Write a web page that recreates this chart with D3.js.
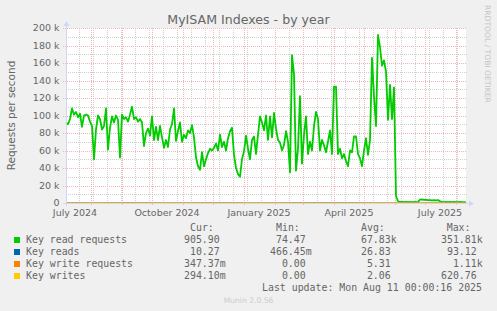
<!DOCTYPE html>
<html>
<head>
<meta charset="utf-8">
<script src="https://cdn.jsdelivr.net/npm/d3@7"></script>
<style>
  body { margin: 0; background: #f0f0f0; }
  svg { display: block; }
</style>
</head>
<body>
<div id="chart"></div>
<script>
// ---- data (values in thousands of requests/s, one sample every 2 days from startDay)
const startDay = new Date(2024, 6, 7);
const stepDays = 2;
const keyReadRequests = [
  92, 90, 96, 108, 101, 104, 98, 102, 87, 100, 101, 100, 93, 88, 50, 84, 100, 96, 84, 88,
  108, 61, 86, 99, 92, 100, 95, 52, 101, 96, 98, 93, 101, 110, 96, 98, 93, 96, 92, 65,
  80, 85, 77, 99, 72, 87, 72, 88, 75, 63, 72, 64, 84, 90, 108, 71, 82, 92, 70, 78,
  74, 83, 80, 89, 75, 52, 42, 38, 58, 42, 50, 57, 62, 60, 63, 68, 60, 78, 64, 70,
  60, 74, 82, 86, 55, 40, 33, 30, 50, 59, 77, 62, 50, 72, 76, 56, 78, 99, 92, 83,
  100, 72, 99, 75, 103, 85, 72, 69, 60, 66, 82, 70, 35, 169, 147, 37, 62, 122, 45, 78,
  99, 56, 70, 60, 88, 104, 96, 60, 72, 66, 58, 70, 83, 56, 133, 133, 56, 62, 51, 56,
  48, 42, 60, 58, 76, 76, 56, 51, 42, 60, 74, 55, 72, 166, 122, 88, 192, 178, 157, 163,
  150, 95, 135, 96, 132, 8, 2, 1.2,
  1.2, 1.0, 1.3, 1.1, 1.2, 1.0, 1.2, 1.1, 1.3,
  3.8, 4.0, 3.5, 3.6, 3.2, 3.4, 3.0, 3.3, 3.1, 3.4, 2.0,
  1.2, 1.1, 1.3, 1.0, 1.2, 1.1, 1.2, 1.0, 1.1, 1.2, 1.0, 1.1, 0.9
];

// the small series, sampled monthly (requests/s)
const smallDates = ["2024-07-07","2024-08-07","2024-09-07","2024-10-07","2024-11-07","2024-12-07",
  "2025-01-07","2025-02-07","2025-03-07","2025-04-07","2025-05-07","2025-06-07","2025-07-07","2025-08-11"];
const keyReads          = [31, 29, 33, 27, 25, 30, 26, 28, 35, 32, 22, 10, 10, 10];
const keyWriteRequests  = [6, 5, 7, 5, 4, 6, 5, 6, 7, 6, 4, 0.4, 0.4, 0.3];
const keyWrites         = [2.5, 2, 3, 2, 1.5, 2.5, 2, 2.3, 3, 2.4, 1.5, 0.3, 0.3, 0.3];

const yTicks = [0, 20, 40, 60, 80, 100, 120, 140, 160, 180, 200];
const xLabels = ["July 2024", "October 2024", "January 2025", "April 2025", "July 2025"];
const xLabelDates = ["2024-07-16", "2024-10-16", "2025-01-16", "2025-04-16", "2025-07-16"];

const seriesNames = ["Key read requests", "Key reads", "Key write requests", "Key writes"];
const seriesColors = ["#00cc00", "#0066b3", "#ff8000", "#ffcc00"];
const curVals = ["905.90", "10.27", "347.37m", "294.10m"];
const minVals = ["74.47", "466.45m", "0.00", "0.00"];
const avgVals = ["67.83k", "26.83", "5.31", "2.06"];
const maxVals = ["351.81k", "93.12", "1.11k", "620.76"];

// ---- layout
const W = 497, H = 311;
const plotL = 66, plotT = 28, plotW = 400, plotH = 175;
const plotB = plotT + plotH;
const sans = "DejaVu Sans", mono = "DejaVu Sans Mono";
const fontColor = "#666666", axisColor = "#cfd6f8";
const minorGrid = "#cfcfcf", majorGrid = "#f2b4b4";

const parseDay = d3.timeParse("%Y-%m-%d");
const endDay = d3.timeDay.offset(startDay, 400);

const x = d3.scaleTime().domain([startDay, endDay]).range([plotL, plotL + plotW]);
const y = d3.scaleLinear().domain([0, 200]).range([plotB, plotT]);

const svg = d3.select("#chart").append("svg")
  .attr("width", W).attr("height", H);

svg.append("rect").attr("width", W).attr("height", H).attr("fill", "#f0f0f0");
svg.append("rect").attr("x", plotL).attr("y", plotT).attr("width", plotW).attr("height", plotH)
  .attr("fill", "#ffffff");

// grid
const px = v => Math.round(v) + 0.5;
const grid = svg.append("g");
const minorY = d3.range(10, 201, 20);
grid.selectAll(".hmin").data(minorY).join("line")
  .attr("x1", plotL).attr("x2", plotL + plotW + 1)
  .attr("y1", d => px(y(d))).attr("y2", d => px(y(d)))
  .attr("stroke", minorGrid).attr("stroke-dasharray", "1,1");

const minorX = d3.range(13, 400, 14).map(k => d3.timeDay.offset(startDay, k));
grid.selectAll(".vmin").data(minorX).join("line")
  .attr("x1", d => px(x(d))).attr("x2", d => px(x(d)))
  .attr("y1", plotT).attr("y2", plotB)
  .attr("stroke", minorGrid).attr("stroke-dasharray", "1,1");

grid.selectAll(".hmaj").data(yTicks.slice(1)).join("line")
  .attr("x1", plotL - 3).attr("x2", plotL + plotW + 1)
  .attr("y1", d => px(y(d))).attr("y2", d => px(y(d)))
  .attr("stroke", majorGrid).attr("stroke-dasharray", "1,1");

const months = d3.timeMonth.range(d3.timeMonth.ceil(startDay), endDay);
grid.selectAll(".vmaj").data(months).join("line")
  .attr("x1", d => px(x(d))).attr("x2", d => px(x(d)))
  .attr("y1", plotT).attr("y2", plotB + 3)
  .attr("stroke", majorGrid).attr("stroke-dasharray", "1,1");

// series
const readPts = keyReadRequests.map((v, i) => [d3.timeDay.offset(startDay, i * stepDays), v]);
const line = d3.line().x(d => x(d[0])).y(d => y(d[1]));

svg.append("path").datum(readPts)
  .attr("d", line).attr("fill", "none")
  .attr("stroke", seriesColors[0]).attr("stroke-width", 1.8)
  .attr("stroke-linejoin", "round");

[keyReads, keyWriteRequests, keyWrites].forEach((arr, j) => {
  const pts = arr.map((v, i) => [parseDay(smallDates[i]), v / 1000]);
  svg.append("path").datum(pts)
    .attr("d", line).attr("fill", "none")
    .attr("stroke", seriesColors[j + 1]).attr("stroke-width", 1.2);
});

// axes
svg.append("line").attr("x1", plotL - 3).attr("x2", plotL + plotW + 4)
  .attr("y1", plotB + 0.5).attr("y2", plotB + 0.5).attr("stroke", axisColor);
svg.append("path").attr("d", `M${plotL + plotW + 3},${plotB - 2.5}L${plotL + plotW + 8},${plotB + 0.5}L${plotL + plotW + 3},${plotB + 3.5}Z`)
  .attr("fill", axisColor);
svg.append("line").attr("x1", plotL + 0.5).attr("x2", plotL + 0.5)
  .attr("y1", plotB + 3).attr("y2", plotT - 3).attr("stroke", axisColor);
svg.append("path").attr("d", `M${plotL - 2.5},${plotT - 2}L${plotL + 0.5},${plotT - 7}L${plotL + 3.5},${plotT - 2}Z`)
  .attr("fill", axisColor);

// tick labels
svg.append("g").selectAll("text").data(yTicks).join("text")
  .attr("x", 59.5).attr("y", d => y(d) + 3.3)
  .attr("text-anchor", "end")
  .attr("font-family", sans).attr("font-size", 9.5).attr("fill", fontColor)
  .text(d => d === 0 ? "0" : d + " k");

svg.append("g").selectAll("text").data(xLabels).join("text")
  .attr("x", (d, i) => x(parseDay(xLabelDates[i])))
  .attr("y", 216)
  .attr("text-anchor", "middle")
  .attr("font-family", sans).attr("font-size", 9.5).attr("fill", fontColor)
  .text(d => d);

// titles
svg.append("text").attr("x", 248.5).attr("y", 24)
  .attr("text-anchor", "middle")
  .attr("font-family", sans).attr("font-size", 12.6).attr("fill", fontColor)
  .text("MyISAM Indexes - by year");

svg.append("text").attr("transform", "translate(15,115.5) rotate(-90)")
  .attr("text-anchor", "middle")
  .attr("font-family", sans).attr("font-size", 10.5).attr("fill", fontColor)
  .text("Requests per second");

svg.append("text").attr("transform", "translate(485,5) rotate(90)")
  .attr("font-family", sans).attr("font-size", 7.6).attr("fill", "#c4c4c4")
  .text("RRDTOOL / TOBI OETIKER");

svg.append("text").attr("x", 248.5).attr("y", 303)
  .attr("text-anchor", "middle")
  .attr("font-family", sans).attr("font-size", 7.6).attr("fill", "#cccccc")
  .text("Munin 2.0.56");

// legend
const cw = 5.95;
const lg = svg.append("g").attr("font-family", mono).attr("font-size", 9.9).attr("fill", fontColor);
const headers = [["Cur:", 190], ["Min:", 276], ["Avg:", 361], ["Max:", 446.7]];
lg.selectAll(".hdr").data(headers).join("text")
  .attr("x", d => d[1]).attr("y", 231).text(d => d[0]);

const rowY = i => 243 + i * 12;
lg.selectAll(".sw").data(seriesColors).join("rect")
  .attr("x", 14).attr("y", (d, i) => rowY(i) - 6).attr("width", 6).attr("height", 6)
  .attr("fill", d => d);
lg.selectAll(".nm").data(seriesNames).join("text")
  .attr("x", 26).attr("y", (d, i) => rowY(i)).text(d => d);

const columns = [[curVals, 184], [minVals, 270], [avgVals, 355], [maxVals, 441]];
columns.forEach(([vals, x0]) => {
  vals.forEach((v, i) => {
    const m = v.match(/^([\d.]+)([kmM]?)$/);
    lg.append("text").attr("x", x0 + 6 * cw).attr("y", rowY(i))
      .attr("text-anchor", "end").text(m[1]);
    if (m[2]) lg.append("text").attr("x", x0 + 6 * cw).attr("y", rowY(i)).text(m[2]);
  });
});

lg.append("text").attr("x", 262).attr("y", 291)
  .text("Last update: Mon Aug 11 00:00:16 2025");
</script>
</body>
</html>
